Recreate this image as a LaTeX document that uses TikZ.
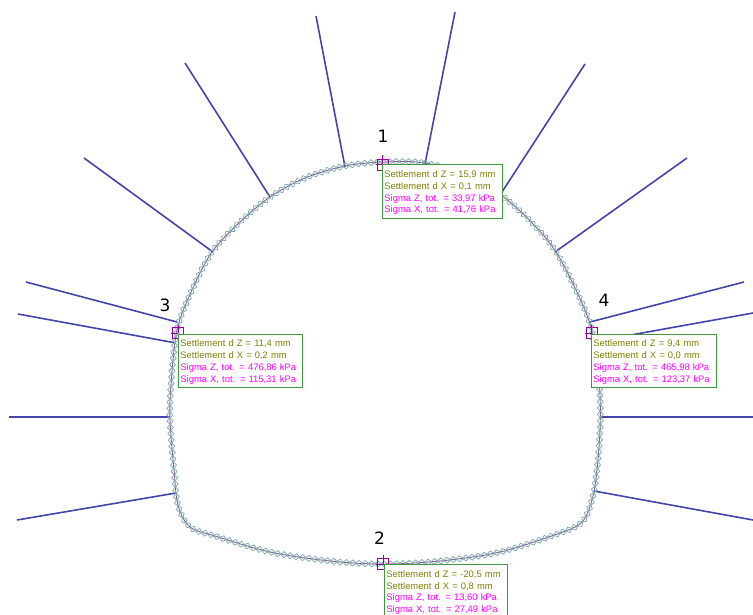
\documentclass[tikz,border=0pt]{standalone}
\usepackage{fontspec}
\setmainfont{Liberation Sans}
\newfontfamily\numfont{DejaVu Sans}
\usetikzlibrary{decorations.markings}
\definecolor{boltc}{HTML}{4444AA}
\definecolor{diac}{HTML}{86ADAD}
\definecolor{linec}{HTML}{805C98}
\definecolor{markc}{HTML}{990099}
\definecolor{boxc}{HTML}{3F9A3F}
\definecolor{settc}{HTML}{808000}
\definecolor{sigc}{HTML}{FF00FF}
\tikzset{
  bolt/.style={draw=boltc,line width=1.6bp},
  lining/.style={draw=linec,line width=0.9bp,
    postaction={decorate},
    decoration={markings,mark=between positions 0 and 1 step 6.3bp with {
      \draw[diac,line width=0.8bp] (-3.5bp,0)--(0,3bp)--(3.5bp,0)--(0,-3bp)--cycle;}}},
  pointmark/.style={draw=markc,line width=0.9bp,minimum size=11bp,inner sep=0pt,rectangle},
  crossl/.style={draw=markc,line width=0.8bp},
  resbox/.style={draw=boxc,line width=0.9bp,fill=white,anchor=north west,inner sep=0pt,
    font=\fontsize{9.4bp}{11.8bp}\selectfont,align=left},
  numlab/.style={font=\numfont\fontsize{17bp}{17bp}\selectfont,text=black,inner sep=0pt},
}
\newcommand{\fourrows}[4]{\rule{0pt}{9.4bp}\textcolor{settc}{#1}\\\textcolor{settc}{#2}\\\textcolor{sigc}{#3}\\\textcolor{sigc}{#4}}
\begin{document}
\begin{tikzpicture}[x=1bp,y=-1bp]
\useasboundingbox (0,0) rectangle (753,615);
\clip (0,0) rectangle (753,615);
% bolt ends
\coordinate (a1) at (345,167); \coordinate (b1) at (316,16);
\coordinate (a2) at (425,164); \coordinate (b2) at (455,12);
\coordinate (a3) at (270,197); \coordinate (b3) at (185,63);
\coordinate (a4) at (213,252); \coordinate (b4) at (84,158);
\coordinate (a5) at (502,192); \coordinate (b5) at (585,64);
\coordinate (a6) at (555,252); \coordinate (b6) at (687,158);
\coordinate (a7) at (177,322); \coordinate (b7) at (26,282);
\coordinate (a8) at (176,343); \coordinate (b8) at (18,314);
\coordinate (a9) at (170,417); \coordinate (b9) at (9,417);
\coordinate (a10) at (176,493); \coordinate (b10) at (17,520);
\coordinate (a11) at (590,322); \coordinate (b11) at (744,282);
\coordinate (a12) at (592,342); \coordinate (b12) at (753,313);
\coordinate (a13) at (600,417); \coordinate (b13) at (753,417);
\coordinate (a14) at (594,491); \coordinate (b14) at (753,520);
\foreach \i in {1,...,14} {\draw[bolt] (a\i) -- (b\i);}
% lining
\path[lining] plot[smooth cycle,tension=0.55] coordinates {
 (383,162) (425,163) (470,176) (505,198) (535,226) (556,252) (576,290) (590,324) (597,360)
 (600,395) (600,430) (597,470) (592,500) (582,522) (560,533) (500,552) (440,561) (383,564)
 (330,561) (270,552) (215,536) (190,527) (178,505) (174,470) (170,420) (171,385) (177,330)
 (192,290) (212,252) (240,222) (270,197) (305,178) (345,166)};
% point markers
\node[pointmark] (m1) at (382.5,164.5) {};
\draw[crossl] (m1.center)+(0,-9) -- +(0,0) (m1.center)+(-7,0) -- +(0,0);
\node[pointmark] (m2) at (383,564) {};
\draw[crossl] (m2.center)+(0,-9) -- +(0,0) (m2.center)+(-7,0) -- +(7,0);
\node[pointmark] (m3) at (178,333) {};
\draw[crossl] (m3.center)+(0,-8) -- +(0,0) (m3.center)+(-7,0) -- +(0,0);
\node[pointmark] (m4) at (591.5,333) {};
\draw[crossl] (m4.center)+(0,-8) -- +(0,0) (m4.center)+(-7,0) -- +(0,0);
% result boxes
\node[resbox,minimum width=119.5bp,minimum height=54bp,text width=115.5bp] (r1) at (382,164) {\fourrows{Settlement d Z = 15,9 mm}{Settlement d X = 0,1 mm}{Sigma Z, tot. = 33,97 kPa}{Sigma X, tot. = 41,76 kPa}};
\node[resbox,minimum width=124bp,minimum height=53.5bp,text width=120bp] (r3) at (178,333.7) {\fourrows{Settlement d Z = 11,4 mm}{Settlement d X = 0,2 mm}{Sigma Z, tot. = 476,86 kPa}{Sigma X, tot. = 115,31 kPa}};
\node[resbox,minimum width=125bp,minimum height=53bp,text width=121bp] (r4) at (591,334) {\fourrows{Settlement d Z = 9,4 mm}{Settlement d X = 0,0 mm}{Sigma Z, tot. = 465,98 kPa}{Sigma X, tot. = 123,37 kPa}};
\node[resbox,minimum width=123bp,minimum height=53.5bp,text width=119bp] (r2) at (384,564) {\fourrows{Settlement d Z = -20,5 mm}{Settlement d X = 0,8 mm}{Sigma Z, tot. = 13,60 kPa}{Sigma X, tot. = 27,49 kPa}};
% numbers
\node[numlab] (n1) at (383,136) {1};
\node[numlab] (n2) at (379.5,538) {2};
\node[numlab] (n3) at (165,305) {3};
\node[numlab] (n4) at (604,300) {4};
\end{tikzpicture}
\end{document}
